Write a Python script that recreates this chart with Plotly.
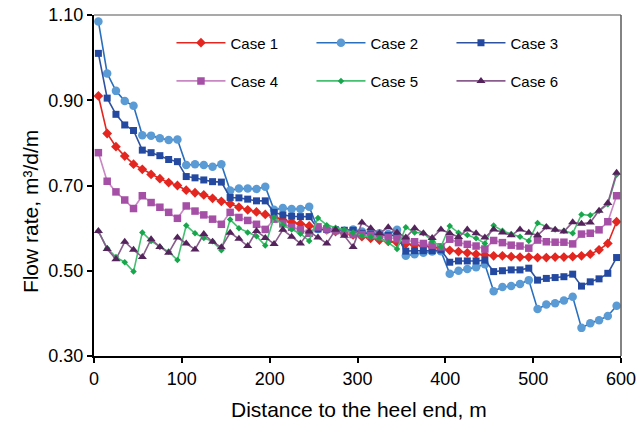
import plotly.graph_objects as go

distance_m = [5, 15, 25, 35, 45, 55, 65, 75, 85, 95,
              105, 115, 125, 135, 145, 155, 165, 175, 185, 195,
              205, 215, 225, 235, 245, 255, 265, 275, 285, 295,
              305, 315, 325, 335, 345, 355, 365, 375, 385, 395,
              405, 415, 425, 435, 445, 455, 465, 475, 485, 495,
              505, 515, 525, 535, 545, 555, 565, 575, 585, 595]

case1 = [0.910, 0.822, 0.791, 0.769, 0.750, 0.738, 0.726, 0.716, 0.707, 0.700,
         0.689, 0.683, 0.678, 0.670, 0.663, 0.657, 0.649, 0.643, 0.638, 0.632,
         0.625, 0.619, 0.614, 0.610, 0.605, 0.600, 0.596, 0.592, 0.588, 0.584,
         0.580, 0.576, 0.572, 0.569, 0.566, 0.563, 0.560, 0.558, 0.556, 0.553,
         0.548, 0.545, 0.542, 0.539, 0.537, 0.535, 0.535, 0.533, 0.532, 0.532,
         0.531, 0.531, 0.532, 0.532, 0.533, 0.535, 0.539, 0.549, 0.564, 0.615]

case2 = [1.085, 0.963, 0.922, 0.898, 0.887, 0.818, 0.817, 0.811, 0.807, 0.808,
         0.748, 0.750, 0.748, 0.744, 0.750, 0.688, 0.693, 0.693, 0.692, 0.697,
         0.643, 0.647, 0.645, 0.645, 0.650, 0.598, 0.596, 0.595, 0.594, 0.597,
         0.592, 0.588, 0.588, 0.586, 0.596, 0.535, 0.539, 0.542, 0.545, 0.546,
         0.493, 0.500, 0.504, 0.508, 0.515, 0.452, 0.462, 0.464, 0.469, 0.478,
         0.410, 0.421, 0.424, 0.430, 0.439, 0.366, 0.377, 0.384, 0.394, 0.418]

case3 = [1.010, 0.905, 0.867, 0.842, 0.829, 0.783, 0.777, 0.770, 0.761, 0.756,
         0.721, 0.718, 0.713, 0.709, 0.708, 0.672, 0.671, 0.668, 0.664, 0.664,
         0.637, 0.631, 0.628, 0.627, 0.627, 0.598, 0.597, 0.596, 0.595, 0.595,
         0.588, 0.586, 0.585, 0.583, 0.582, 0.546, 0.547, 0.547, 0.547, 0.549,
         0.520, 0.523, 0.523, 0.523, 0.525, 0.498, 0.500, 0.502, 0.502, 0.506,
         0.478, 0.482, 0.484, 0.486, 0.492, 0.464, 0.474, 0.481, 0.494, 0.531]

case4 = [0.777, 0.710, 0.685, 0.666, 0.646, 0.676, 0.660, 0.649, 0.637, 0.623,
         0.652, 0.640, 0.631, 0.621, 0.609, 0.637, 0.625, 0.618, 0.609, 0.597,
         0.621, 0.610, 0.602, 0.596, 0.588, 0.603, 0.598, 0.594, 0.590, 0.585,
         0.585, 0.583, 0.580, 0.578, 0.575, 0.572, 0.568, 0.564, 0.560, 0.556,
         0.574, 0.566, 0.562, 0.558, 0.551, 0.571, 0.566, 0.560, 0.558, 0.553,
         0.572, 0.568, 0.567, 0.567, 0.563, 0.586, 0.588, 0.596, 0.615, 0.676]

case5 = [0.593, 0.553, 0.532, 0.520, 0.498, 0.590, 0.570, 0.556, 0.545, 0.525,
         0.606, 0.588, 0.577, 0.569, 0.548, 0.620, 0.600, 0.590, 0.581, 0.559,
         0.625, 0.607, 0.597, 0.587, 0.570, 0.624, 0.607, 0.601, 0.596, 0.590,
         0.582, 0.579, 0.576, 0.566, 0.551, 0.602, 0.590, 0.588, 0.570, 0.556,
         0.605, 0.589, 0.584, 0.576, 0.564, 0.606, 0.594, 0.586, 0.580, 0.570,
         0.612, 0.604, 0.597, 0.594, 0.588, 0.632, 0.630, 0.640, 0.656, 0.725]

case6 = [0.593, 0.551, 0.527, 0.568, 0.549, 0.532, 0.574, 0.556, 0.542, 0.578,
         0.564, 0.550, 0.586, 0.568, 0.555, 0.589, 0.575, 0.558, 0.593, 0.577,
         0.563, 0.596, 0.580, 0.564, 0.592, 0.578, 0.564, 0.596, 0.582, 0.556,
         0.613, 0.600, 0.588, 0.602, 0.590, 0.578, 0.600, 0.588, 0.577, 0.597,
         0.588, 0.579, 0.597, 0.588, 0.578, 0.597, 0.590, 0.583, 0.597, 0.589,
         0.583, 0.602, 0.596, 0.592, 0.614, 0.610, 0.613, 0.641, 0.659, 0.730]

series_names = ["Case 1", "Case 2", "Case 3", "Case 4", "Case 5", "Case 6"]
x_ticks = [0, 100, 200, 300, 400, 500, 600]
y_ticks = [0.30, 0.50, 0.70, 0.90, 1.10]

FONT = "Arial, Liberation Sans, sans-serif"

styles = [
    dict(line="#e3261f", marker="#e3261f", symbol="diamond", size=7.5, legend="legend"),
    dict(line="#2a6fbe", marker="#5b9bd5", symbol="circle", size=8.5, legend="legend"),
    dict(line="#2f52a0", marker="#2349a0", symbol="square", size=7, legend="legend"),
    dict(line="#c987c4", marker="#a64fa6", symbol="square", size=7.5, legend="legend2"),
    dict(line="#45c070", marker="#18a64c", symbol="diamond", size=5, legend="legend2"),
    dict(line="#8a5c8e", marker="#55235c", symbol="triangle-up", size=8, legend="legend2"),
]

fig = go.Figure()
for name, ys, st in zip(series_names, [case1, case2, case3, case4, case5, case6], styles):
    fig.add_trace(go.Scatter(
        x=distance_m, y=ys, name=name, mode="lines+markers",
        line=dict(color=st["line"], width=1.6),
        marker=dict(color=st["marker"], symbol=st["symbol"], size=st["size"],
                    line=dict(width=0)),
        legend=st["legend"],
    ))

legend_common = dict(
    orientation="h", xanchor="left", yanchor="middle",
    font=dict(family=FONT, size=15, color="#000000"),
    bgcolor="rgba(0,0,0,0)", itemwidth=49,
    entrywidth=76, entrywidthmode="pixels", itemclick=False,
)

fig.update_layout(
    width=644, height=423,
    margin=dict(l=94, r=23, t=15, b=67),
    paper_bgcolor="white", plot_bgcolor="white",
    font=dict(family=FONT, color="#000000"),
    showlegend=True,
    legend=dict(x=0.147, y=0.918, **legend_common),
    legend2=dict(x=0.147, y=0.806, **legend_common),
    xaxis=dict(range=[0, 600], tickvals=x_ticks, ticks="outside", ticklen=5,
               tickwidth=1.5, tickcolor="#000000",
               showline=True, linecolor="#000000", linewidth=2,
               showgrid=False, zeroline=False, automargin=False,
               tickfont=dict(family=FONT, size=18, color="#000000")),
    yaxis=dict(range=[0.30, 1.10], tickvals=y_ticks, tickformat=".2f",
               ticks="outside", ticklen=5, tickwidth=1.5, tickcolor="#000000",
               showline=True, linecolor="#000000", linewidth=2,
               showgrid=False, zeroline=False, automargin=False,
               tickfont=dict(family=FONT, size=18, color="#000000")),
    shapes=[
        dict(type="line", xref="paper", yref="paper", x0=0, x1=1, y0=1, y1=1,
             line=dict(color="#8c8c8c", width=1.5)),
        dict(type="line", xref="paper", yref="paper", x0=1, x1=1, y0=0, y1=1,
             line=dict(color="#5a5a5a", width=1.5)),
    ],
    annotations=[
        dict(text="Distance to the heel end, m", xref="paper", yref="paper",
             x=0.503, y=-0.158, xanchor="center", yanchor="middle", showarrow=False,
             font=dict(family=FONT, size=21, color="#000000")),
        dict(text="Flow rate, m³/d/m", xref="paper", yref="paper",
             x=-0.1214, y=0.422, xanchor="center", yanchor="middle", showarrow=False,
             textangle=-90, font=dict(family=FONT, size=21, color="#000000")),
    ],
)

fig.write_html(
    "out.html",
    config={"displayModeBar": False},
    post_script="document.body.style.margin='0';document.body.style.overflow='hidden';",
)
